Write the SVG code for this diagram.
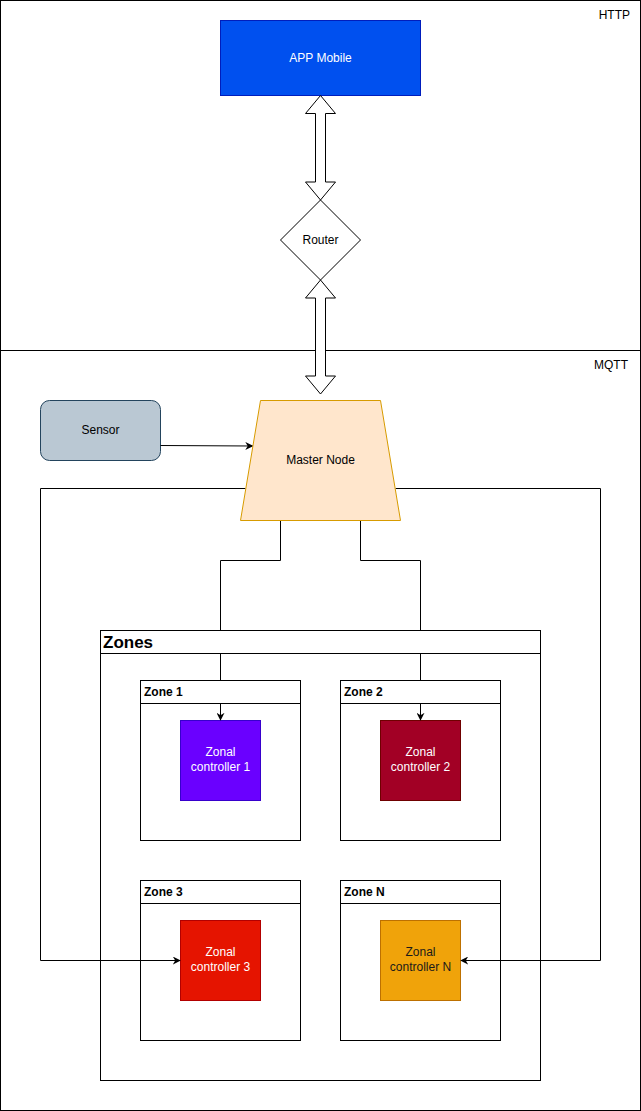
<svg xmlns="http://www.w3.org/2000/svg" width="641" height="1111" viewBox="0 0 641 1111">
  <style>
    text { font-family: "Liberation Sans", Arial, sans-serif; font-size: 12px; }
    .lbl { text-anchor: middle; dominant-baseline: central; }
    .frame { fill: #ffffff; stroke: #000000; stroke-width: 1; }
    .box { stroke-width: 1; }
    .edge { fill: none; stroke: #000000; stroke-width: 1; }
    .flex { fill: #ffffff; stroke: #000000; stroke-width: 1; }
    .head { font-weight: bold; }
    .white { fill: #ffffff; }
  </style>
  <defs>
    <marker id="arr" viewBox="0 0 10 10" refX="9" refY="5" markerWidth="8" markerHeight="8" markerUnits="userSpaceOnUse" orient="auto">
      <path d="M0,0 L10,5 L0,10 L3,5 Z" fill="#000000"/>
    </marker>
  </defs>

  <rect width="641" height="1111" fill="#ffffff"/>

  <!-- protocol layers -->
  <g id="http-layer">
    <rect class="frame" x="0.5" y="0.5" width="640" height="350"/>
    <text x="630" y="15" text-anchor="end" dominant-baseline="central">HTTP</text>
  </g>
  <g id="mqtt-layer">
    <rect class="frame" x="0.5" y="350.5" width="640" height="760"/>
    <text x="628" y="365" text-anchor="end" dominant-baseline="central">MQTT</text>
  </g>

  <!-- mobile app -->
  <g id="app-mobile">
    <rect class="box" x="220.5" y="20.5" width="200" height="75" fill="#0050ef" stroke="#001dbc"/>
    <text class="lbl white" x="320.5" y="58">APP Mobile</text>
  </g>

  <!-- router -->
  <g id="router">
    <polygon points="320.5,200 360.5,240 320.5,280 280.5,240" fill="#ffffff" stroke="#000000"/>
    <text class="lbl" x="320.5" y="240">Router</text>
  </g>

  <!-- sensor -->
  <g id="sensor">
    <rect class="box" x="40.5" y="400.5" width="120" height="60" rx="9" fill="#bac8d3" stroke="#23445d"/>
    <text class="lbl" x="100.5" y="430">Sensor</text>
  </g>

  <!-- zones container -->
  <g id="zones">
    <rect class="frame" x="100.5" y="630.5" width="440" height="450"/>
    <line x1="100.5" y1="653.5" x2="540.5" y2="653.5" stroke="#000000"/>
    <text x="103" y="642" dominant-baseline="central" style="font-size:17px;font-weight:bold">Zones</text>
  </g>

  <g id="zone-1">
    <rect class="frame" x="140.5" y="680.5" width="160" height="160"/>
    <line x1="140.5" y1="703.5" x2="300.5" y2="703.5" stroke="#000000"/>
    <text class="head" x="144" y="692" dominant-baseline="central">Zone 1</text>
  </g>
  <g id="zone-2">
    <rect class="frame" x="340.5" y="680.5" width="160" height="160"/>
    <line x1="340.5" y1="703.5" x2="500.5" y2="703.5" stroke="#000000"/>
    <text class="head" x="344" y="692" dominant-baseline="central">Zone 2</text>
  </g>
  <g id="zone-3">
    <rect class="frame" x="140.5" y="880.5" width="160" height="160"/>
    <line x1="140.5" y1="903.5" x2="300.5" y2="903.5" stroke="#000000"/>
    <text class="head" x="144" y="892" dominant-baseline="central">Zone 3</text>
  </g>
  <g id="zone-n">
    <rect class="frame" x="340.5" y="880.5" width="160" height="160"/>
    <line x1="340.5" y1="903.5" x2="500.5" y2="903.5" stroke="#000000"/>
    <text class="head" x="344" y="892" dominant-baseline="central">Zone N</text>
  </g>

  <!-- zonal controllers -->
  <g id="controller-1">
    <rect class="box" x="180.5" y="720.5" width="80" height="80" fill="#6a00ff" stroke="#3700cc"/>
    <text class="lbl white" x="220.5" y="752">Zonal</text>
    <text class="lbl white" x="220.5" y="767">controller 1</text>
  </g>
  <g id="controller-2">
    <rect class="box" x="380.5" y="720.5" width="80" height="80" fill="#a20025" stroke="#6f0000"/>
    <text class="lbl white" x="420.5" y="752">Zonal</text>
    <text class="lbl white" x="420.5" y="767">controller 2</text>
  </g>
  <g id="controller-3">
    <rect class="box" x="180.5" y="920.5" width="80" height="80" fill="#e51400" stroke="#b20000"/>
    <text class="lbl white" x="220.5" y="952">Zonal</text>
    <text class="lbl white" x="220.5" y="967">controller 3</text>
  </g>
  <g id="controller-n">
    <rect class="box" x="380.5" y="920.5" width="80" height="80" fill="#f0a30a" stroke="#bd7000"/>
    <text class="lbl" x="420.5" y="952" fill="#1a1a1a">Zonal</text>
    <text class="lbl" x="420.5" y="967" fill="#1a1a1a">controller N</text>
  </g>

  <!-- connectors -->
  <g id="connectors">
    <!-- bidirectional links app / router / master -->
    <polygon class="flex" points="320.5,95.5 335.5,113.5 325.5,113.5 325.5,182 335.5,182 320.5,200 305.5,182 315.5,182 315.5,113.5 305.5,113.5"/>
    <polygon class="flex" points="320.5,280 335.5,298 325.5,298 325.5,376 335.5,376 320.5,394 305.5,376 315.5,376 315.5,298 305.5,298"/>

    <!-- sensor to master -->
    <path class="edge" d="M160.5,445.5 L252.5,446" marker-end="url(#arr)"/>

    <!-- master to controller 1 (hidden under container headers) -->
    <path class="edge" d="M280.5,520.5 V560.5 H220.5 V630.5"/>
    <path class="edge" d="M220.5,653.5 V680.5"/>
    <path class="edge" d="M220.5,703.5 V720" marker-end="url(#arr)"/>

    <!-- master to controller 2 -->
    <path class="edge" d="M360.5,520.5 V560.5 H420.5 V630.5"/>
    <path class="edge" d="M420.5,653.5 V680.5"/>
    <path class="edge" d="M420.5,703.5 V720" marker-end="url(#arr)"/>

    <!-- master to controller 3 -->
    <path class="edge" d="M245.5,488.5 H40.5 V960.5 H180" marker-end="url(#arr)"/>
    <!-- master to controller N -->
    <path class="edge" d="M395.5,488.5 H600.5 V960.5 H461" marker-end="url(#arr)"/>
  </g>

  <!-- master node -->
  <g id="master-node">
    <polygon points="260.5,400.5 380.5,400.5 400.5,520.5 240.5,520.5" fill="#ffe6cc" stroke="#d79b00"/>
    <text class="lbl" x="320.5" y="460">Master Node</text>
  </g>
</svg>
